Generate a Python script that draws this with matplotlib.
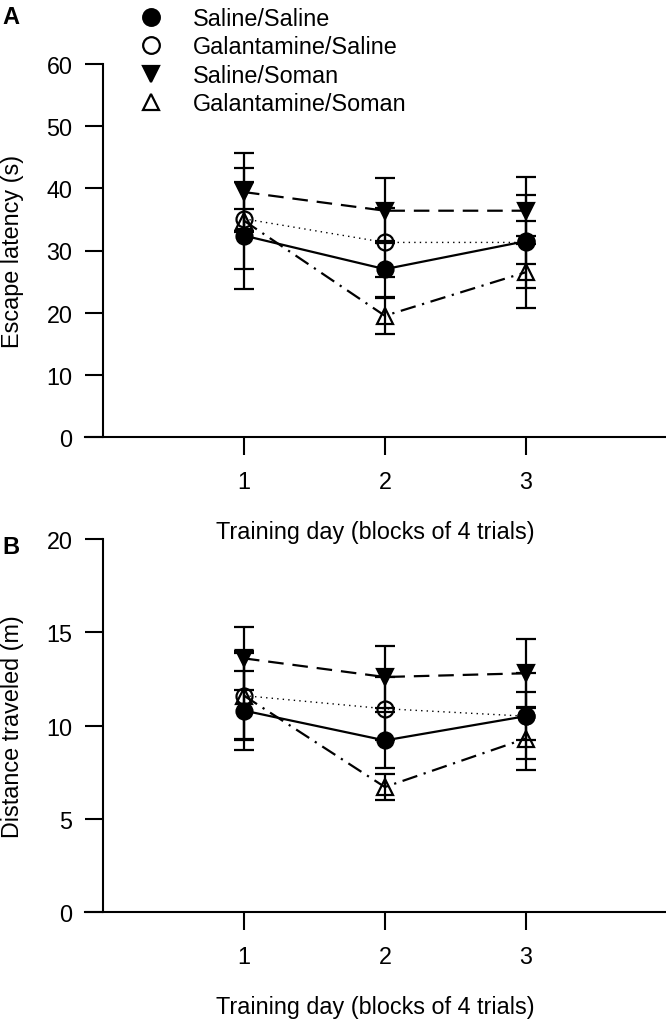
import numpy as np
import matplotlib
matplotlib.use('Agg')
import matplotlib.pyplot as plt
from matplotlib.lines import Line2D

plt.rcParams['font.family'] = ['Liberation Sans', 'DejaVu Sans']
plt.rcParams['font.size'] = 16.8

# Data
days = [1, 2, 3]
groups = ['Saline/Saline', 'Galantamine/Saline', 'Saline/Soman', 'Galantamine/Soman']

# Panel A: escape latency (s), mean and error
ss_lat = [32.4, 27.0, 31.5]
ss_lat_err = [8.6, 4.5, 7.5]
gs_lat = [35.1, 31.3, 31.3]
gs_lat_err = [8.1, 5.6, 3.5]
sso_lat = [39.4, 36.4, 36.4]
sso_lat_err = [6.3, 5.2, 5.4]
gso_lat = [34.8, 19.5, 26.5]
gso_lat_err = [1.9, 2.9, 5.8]

# Panel B: distance traveled (m)
ss_dist = [10.8, 9.2, 10.5]
ss_dist_err = [2.1, 1.5, 2.3]
gs_dist = [11.6, 10.9, 10.5]
gs_dist_err = [2.3, 1.7, 1.3]
sso_dist = [13.6, 12.6, 12.8]
sso_dist_err = [1.7, 1.65, 1.85]
gso_dist = [11.6, 6.7, 9.3]
gso_dist_err = [2.4, 0.7, 1.7]

# style per group: marker, facecolor, linestyle, linewidth
styles = [
    dict(marker='o', mfc='k', ls='-', lw=1.6),
    dict(marker='o', mfc='none', ls=(0, (1, 3)), lw=1.0),
    dict(marker='v', mfc='k', ls=(0, (7, 4)), lw=1.6),
    dict(marker='^', mfc='none', ls=(0, (7, 3, 1, 3)), lw=1.6),
]

fig = plt.figure(figsize=(6.66, 10.2), dpi=100)
W, H = 666., 1020.
axA = fig.add_axes([85/W, 1-438/H, 581/W, 373/H])
axB = fig.add_axes([85/W, 1-913/H, 581/W, 373/H])


def draw(ax, series, errs, ymax, yticks, ylabel):
    ax.patch.set_visible(False)
    for (vals, err), st in zip(zip(series, errs), styles):
        ax.errorbar(days, vals, yerr=err, color='k', marker=st['marker'],
                    mfc=st['mfc'], mec='k', mew=1.6, ms=11.5,
                    ls=st['ls'], lw=st['lw'], elinewidth=1.6,
                    capsize=7, capthick=1.6)
    ax.set_xlim(-0.128, 3.995)
    ax.set_ylim(0, ymax)
    ax.spines['left'].set_position(('data', 0))
    ax.spines['top'].set_visible(False)
    ax.spines['right'].set_visible(False)
    for s in ['left', 'bottom']:
        ax.spines[s].set_linewidth(1.5)
    ax.set_xticks(days)
    ax.set_yticks(yticks)
    ax.tick_params(length=13, width=1.5, direction='out')
    ax.tick_params(axis='x', pad=11)
    ax.tick_params(axis='y', pad=9)
    ax.set_xlabel('Training day (blocks of 4 trials)', labelpad=19)
    ax.set_ylabel(ylabel)
    ax.yaxis.set_label_coords(-0.105, 0.5)


draw(axA, [ss_lat, gs_lat, sso_lat, gso_lat],
     [ss_lat_err, gs_lat_err, sso_lat_err, gso_lat_err],
     60, np.arange(0, 61, 10), 'Escape latency (s)')
draw(axB, [ss_dist, gs_dist, sso_dist, gso_dist],
     [ss_dist_err, gs_dist_err, sso_dist_err, gso_dist_err],
     20, np.arange(0, 21, 5), 'Distance traveled (m)')

handles = [Line2D([], [], color='k', marker=st['marker'], mfc=st['mfc'],
                  mec='k', mew=1.6, ms=12, ls='none') for st in styles]
fig.legend(handles, groups, loc='upper left', bbox_to_anchor=(139/W, 1-8/H),
           frameon=False, handlelength=1.0, handletextpad=1.3,
           labelspacing=0.23, borderpad=0, borderaxespad=0, fontsize=16.8)

fig.text(2/W, 1-18/H, 'A', fontsize=17, fontweight='bold', va='center')
fig.text(2/W, 1-548/H, 'B', fontsize=17, fontweight='bold', va='center')

fig.savefig('out.png', dpi=100)
